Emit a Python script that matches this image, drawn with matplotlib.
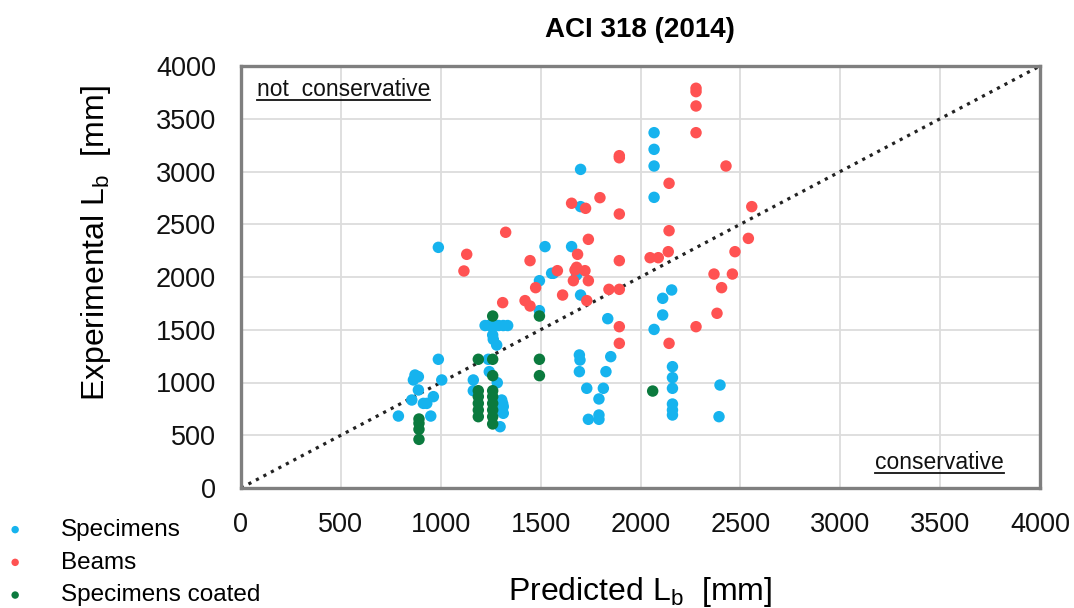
import numpy as np
import matplotlib
matplotlib.use('Agg')
import matplotlib.pyplot as plt
from matplotlib.lines import Line2D

# ---- data: (predicted, experimental) in mm ----
spec_x = [788, 855, 863, 871, 888, 888, 913, 930, 950, 963, 988, 1005, 988,
          1163, 1163, 1238, 1243, 1283, 1305, 1313, 1313, 1297, 1310, 1305,
          1260, 1263, 1280,
          1222, 1245, 1268, 1290, 1313, 1335, 1255,
          1494, 1494, 1522, 1555, 1564, 1655, 1680, 1700, 1700, 1700, 1836,
          1694, 1697, 1694, 1851, 1827, 1731, 1814, 1792, 1739, 1792, 1792,
          2068, 2068, 2068, 2068, 2156, 2111, 2111, 2068,
          2160, 2160, 2160, 2160, 2160, 2160,
          2398, 2393]
spec_y = [682, 834, 1024, 1071, 1055, 929, 802, 802, 682, 866, 1220, 1024, 2281,
          1024, 922, 1220, 1103, 998, 834, 771, 708, 581, 800, 740,
          1450, 1409, 1355,
          1540, 1540, 1540, 1540, 1540, 1540, 1555,
          1965, 1681, 2288, 2035, 2035, 2288, 2019, 1829, 3020, 2667, 1605,
          1261, 1213, 1103, 1245, 1103, 945, 945, 844, 651, 692, 651,
          3368, 3210, 3052, 2755, 1877, 1798, 1640, 1503,
          1150, 1046, 945, 796, 739, 692,
          976, 676]

beam_x = [1130, 1116, 1325, 1447, 1310, 1422, 1447, 1475, 1584, 1610, 1655,
          1725, 1797, 1739, 1680, 1685, 1722, 1664, 1739, 1731, 1894, 1894,
          1894, 1894, 1842, 1894, 1894, 1894, 2048, 2089, 2139, 2143, 2143,
          2143, 2278, 2278, 2278, 2278, 2428, 2557, 2540, 2473, 2368, 2460,
          2406, 2383, 2278, 1672]
beam_y = [2215, 2057, 2424, 2155, 1757, 1776, 1725, 1899, 2060, 1829, 2699,
          2651, 2752, 2357, 2092, 2215, 2060, 1965, 1965, 1776, 3150, 3130,
          2597, 2155, 1883, 1883, 1529, 1371, 2183, 2183, 2240, 2888, 2439,
          1371, 3789, 3757, 3621, 3368, 3052, 2667, 2366, 2240, 2028, 2028,
          1899, 1656, 1529, 2066]

coat_x = [891, 891, 891, 891,
          1188, 1188, 1188, 1188, 1188, 1188,
          1260, 1260, 1260, 1260, 1260, 1260, 1260, 1260, 1260,
          1494, 1494, 1494, 2061]
coat_y = [654, 613, 556, 461,
          1220, 922, 866, 802, 739, 676,
          1630, 1220, 1065, 922, 866, 802, 739, 676, 607,
          1630, 1220, 1065, 919]

ticks = [0, 500, 1000, 1500, 2000, 2500, 3000, 3500, 4000]

plt.rcParams['font.family'] = ['Liberation Sans', 'DejaVu Sans']
plt.rcParams['mathtext.fontset'] = 'custom'
plt.rcParams['mathtext.rm'] = 'Liberation Sans'

fig = plt.figure(figsize=(10.74, 6.08), dpi=100)
ax = fig.add_axes([241/1074, 1-488/608, 799/1074, 422/608])

ax.set_xlim(0, 4000)
ax.set_ylim(0, 4000)
ax.set_xticks(ticks)
ax.set_yticks(ticks)
ax.grid(True, color='#dcdcdc', linewidth=1.3)
ax.set_axisbelow(True)
for s in ax.spines.values():
    s.set_color('#7f7f7f')
    s.set_linewidth(2.4)
ax.tick_params(length=0, labelsize=19.5, labelcolor='#111111')
ax.tick_params(axis='x', pad=17)
ax.tick_params(axis='y', pad=18)

# 1:1 line
ax.plot(ticks, ticks, ':', color='#222222', linewidth=2.3, zorder=2)

ax.scatter(spec_x, spec_y, s=68, color='#16b3ee', edgecolors='none',
           label='Specimens', zorder=3)
ax.scatter(beam_x, beam_y, s=68, color='#ff5252', edgecolors='none',
           label='Beams', zorder=3)
ax.scatter(coat_x, coat_y, s=68, color='#0b7a3e', edgecolors='none',
           label='Specimens coated', zorder=4)

ax.set_xlabel(r'Predicted L$_\mathregular{b}$  [mm]', fontsize=23)
ax.set_ylabel(r'Experimental L$_\mathregular{b}$  [mm]', fontsize=23)
ax.xaxis.set_label_coords(0.5, -0.205)
ax.yaxis.set_label_coords(-0.16, 0.58)

fig.text(640/1074, 1-30/608, 'ACI 318 (2014)', fontsize=20, weight='bold',
         ha='center', va='center')

t1 = ax.text(0.02, 0.945, 'not  conservative', transform=ax.transAxes,
             fontsize=16.5, ha='left', va='center', color='#111111')
t2 = ax.text(0.955, 0.06, 'conservative', transform=ax.transAxes,
             fontsize=16.5, ha='right', va='center', color='#111111')

leg = fig.legend(loc='upper left', bbox_to_anchor=(3/1074, 1-519/608),
                 frameon=False, fontsize=17.5, markerscale=0.65,
                 handlelength=1.0, handletextpad=1.4, labelspacing=0.44,
                 borderpad=0, borderaxespad=0)

# underline the two annotations
fig.canvas.draw()
for t in (t1, t2):
    bb = t.get_window_extent()
    yy = bb.y0 + 1
    fig.add_artist(Line2D([bb.x0, bb.x1], [yy, yy], transform=None,
                          color='#111111', linewidth=1.3))

fig.savefig('out.png', dpi=100)
